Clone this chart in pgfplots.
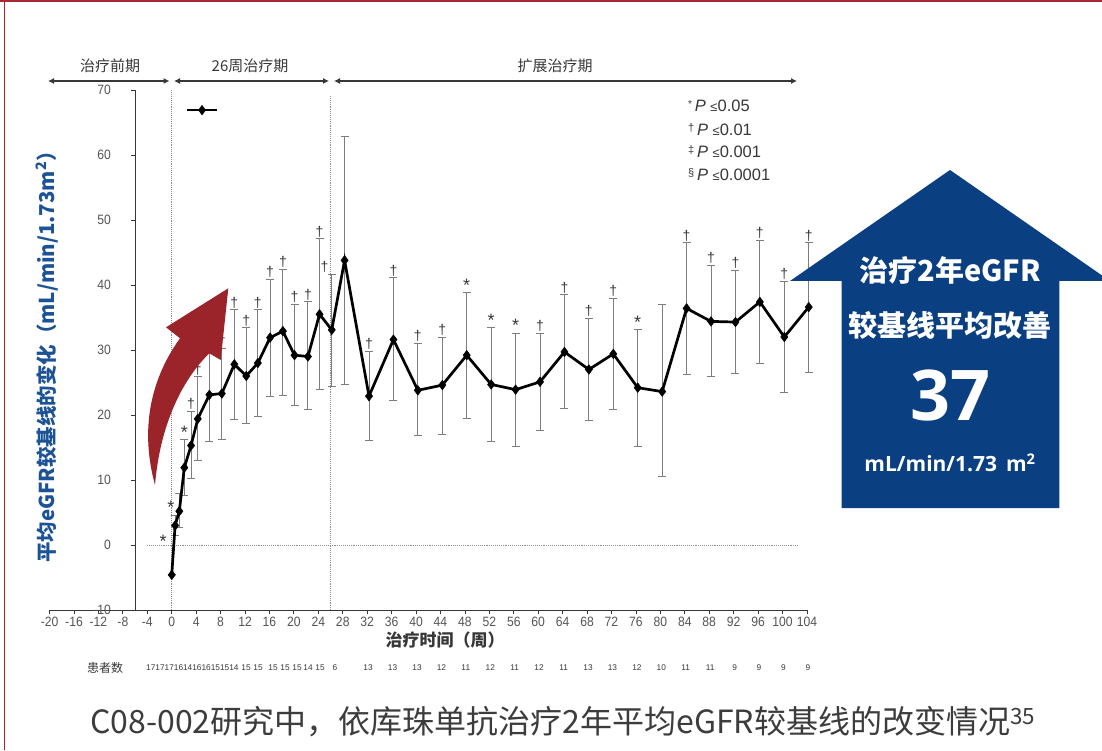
\documentclass[border=0pt]{standalone}
\usepackage{fontspec}
\usepackage{pgfplots}
\pgfplotsset{compat=1.18}
\usepackage{pgfplotstable}
\usetikzlibrary{arrows.meta}

\setmainfont{Liberation Sans}
\newfontfamily\cjk{Noto Sans CJK SC}
\newfontfamily\narrowfont[FakeStretch=0.9]{Liberation Sans}
\newfontfamily\opensans{Open Sans}

\definecolor{axcol}{RGB}{55,55,55}
\definecolor{tickcol}{RGB}{85,85,85}
\definecolor{barcol}{RGB}{125,125,125}
\definecolor{dotcol}{RGB}{140,140,140}
\definecolor{arrowred}{RGB}{155,36,43}
\definecolor{boxblue}{RGB}{10,63,130}
\definecolor{labblue}{RGB}{28,82,150}
\definecolor{framered}{RGB}{165,40,50}
\definecolor{titlegray}{RGB}{60,60,60}

% significance glyphs
\newcommand\sigA{\raisebox{-3pt}{\fontsize{18}{18}\selectfont *}}
\newcommand\sigB{†}

% mean change from baseline, upper / lower SD
\pgfplotstableread{
w      m     ep    em
0      -4.6  0     0
0.55   3.0   1.5   1.5
1.24   5.2   2.7   2.5
2.06   11.9  4.3   4.3
3.16   15.3  5.3   5.1
4.26   19.4  6.5   6.4
6.16   23.1  7.2   7.2
8.2    23.3  7.0   7.0
10.25  27.8  8.4   8.5
12.2   26.0  7.4   7.3
14.1   28.0  8.2   8.2
16.1   31.9  9.0   9.0
18.2   32.9  9.5   9.9
20.1   29.2  7.8   7.8
22.3   29.0  8.4   8.2
24.2   35.5  11.6  11.6
26.2   33.1  8.6   8.7
28.3   43.8  19.1  19.1
32.3   22.9  6.9   6.8
36.3   31.6  9.5   9.3
40.3   23.8  7.2   7.0
44.3   24.6  7.4   7.6
48.3   29.2  9.6   9.8
52.3   24.7  8.7   8.8
56.3   23.9  8.7   8.7
60.3   25.1  7.5   7.5
64.3   29.7  8.8   8.7
68.3   27.0  7.9   7.8
72.3   29.4  8.6   8.6
76.3   24.2  8.9   9.0
80.3   23.6  13.4  13.1
84.3   36.4  10.1  10.1
88.3   34.4  8.6   8.5
92.3   34.3  8.0   7.9
96.3   37.4  9.5   9.5
100.3  32.0  8.6   8.6
104.3  36.6  9.9   10.0
}\egfr

% significance symbols, placed on top of the SD bars
\pgfplotstableread{
w      t     s
-1.4   -0.6  \sigA
-0.15  4.6   \sigA
2.06   16.2  \sigA
3.16   20.6  \sigB
4.26   25.9  \sigB
6.16   30.3  \sigB
8.2    30.3  \sigB
10.25  36.2  \sigB
12.2   33.4  \sigB
14.1   36.2  \sigB
16.1   40.9  \sigB
18.2   42.4  \sigB
20.1   37.0  \sigB
22.3   37.4  \sigB
24.2   47.1  \sigB
25.0   41.7  \sigB
32.3   29.8  \sigB
36.3   41.1  \sigB
40.3   31.0  \sigB
44.3   32.0  \sigB
48.3   38.8  \sigA
52.3   33.4  \sigA
56.3   32.6  \sigA
60.3   32.6  \sigB
64.3   38.5  \sigB
68.3   34.9  \sigB
72.3   38.0  \sigB
76.3   33.1  \sigA
84.3   46.5  \sigB
88.3   43.0  \sigB
92.3   42.3  \sigB
96.3   46.9  \sigB
100.3  40.6  \sigB
104.3  46.5  \sigB
}\sig

\begin{document}
\begin{tikzpicture}[x=1pt,y=1pt]
\useasboundingbox (0,0) rectangle (1102,750);
\begin{scope}
\clip (0,0) rectangle (1102,750);

% frame
\fill[framered] (0,747.5) rectangle (1102,750);
\fill[framered] (3.5,0) rectangle (5,750);

\begin{axis}[
  at={(49.6pt,140pt)}, anchor=south west,
  scale only axis, width=757.3pt, height=520pt,
  xmin=-20, xmax=104, ymin=-10, ymax=70,
  axis x line=bottom, axis y line=none,
  x axis line style={-, axcol, line width=1pt},
  xtick={-20,-16,...,104},
  xticklabels={-20,-16,-12,-8,-4,0,4,8,12,16,20,24,28,32,36,40,44,48,52,56,60,64,68,72,76,80,84,88,92,96,100,104},
  xticklabel style={font=\narrowfont\fontsize{13.5}{13.5}\selectfont, text=tickcol},
  tick align=outside, major tick length=3.5pt,
  xtick style={axcol, line width=0.8pt},
  clip=false,
]
% reference lines
\draw[dotcol, densely dotted, line width=0.9pt] (axis cs:0,-10) -- (axis cs:0,70);
\draw[dotcol, densely dotted, line width=0.9pt] (axis cs:26,-10) -- (axis cs:26,69);
\draw[dotcol, densely dotted, line width=0.9pt] (axis cs:-4,0) -- (axis cs:102.5,0);

% y axis at week -6
\draw[axcol, line width=1pt] (axis cs:-6,-10) -- (axis cs:-6,70);
\pgfplotsinvokeforeach{-10,0,10,20,30,40,50,60,70}{
  \draw[axcol, line width=0.8pt] (axis cs:-6,#1) -- ([xshift=-4pt]axis cs:-6,#1);
  \node[anchor=east, font=\narrowfont\fontsize{13.5}{13.5}\selectfont, text=tickcol, inner sep=0pt]
    at ([xshift=-24pt]axis cs:-6,#1) {#1};
}

% SD bars
\addplot[draw=none, mark=none, forget plot,
  error bars/.cd, y dir=both, y explicit,
  error bar style={barcol, line width=0.9pt},
  error mark options={rotate=90, mark size=4pt, barcol, line width=0.9pt}]
  table[x=w, y=m, y error plus=ep, y error minus=em] {\egfr};

% mean change
\addplot[black, line width=2.7pt, mark=diamond*, mark size=4.8pt,
  mark options={solid, line width=0.5pt}]
  table[x=w, y=m] {\egfr};

% significance symbols
\addplot[draw=none, mark=none, nodes near coords, point meta=explicit symbolic,
  nodes near coords style={anchor=south, inner sep=1.5pt,
    font=\fontsize{14}{14}\selectfont, text=axcol}]
  table[x=w, y=t, meta=s] {\sig};

% line key
\addplot[black, line width=2.7pt] coordinates {(2.5,66.9) (7.4,66.9)};
\addplot[black, only marks, mark=diamond*, mark size=4.8pt] coordinates {(4.96,66.9)};
\end{axis}

% phase header
\begin{scope}[axcol, line width=1.1pt]
\draw[{Latex[length=6pt,width=6pt]}-{Latex[length=6pt,width=6pt]}] (48,669) -- (169.5,669);
\draw[{Latex[length=6pt,width=6pt]}-{Latex[length=6pt,width=6pt]}] (174,669) -- (329,669);
\draw[{Latex[length=6pt,width=6pt]}-{Latex[length=6pt,width=6pt]}] (334,669) -- (797,669);
\end{scope}
\node[font=\cjk\fontsize{15}{15}\selectfont, text=axcol] at (110,684) {治疗前期};
\node[font=\cjk\fontsize{15}{15}\selectfont, text=axcol] at (250,684) {26周治疗期};
\node[font=\cjk\fontsize{15}{15}\selectfont, text=axcol] at (555,684) {扩展治疗期};

% significance key
\begin{scope}[every node/.style={anchor=west, font=\fontsize{16.5}{16.5}\selectfont, text=axcol, inner sep=0pt}]
\node at (688,644) {\raisebox{4pt}{\fontsize{10}{10}\selectfont *}\,\textit{P} {\fontsize{13}{13}\selectfont ≤}0.05};
\node at (688,620) {\raisebox{4pt}{\fontsize{11}{11}\selectfont †}\,\textit{P} {\fontsize{13}{13}\selectfont ≤}0.01};
\node at (688,598) {\raisebox{4pt}{\fontsize{11}{11}\selectfont ‡}\,\textit{P} {\fontsize{13}{13}\selectfont ≤}0.001};
\node at (688,575) {\raisebox{4pt}{\fontsize{11}{11}\selectfont §}\,\textit{P} {\fontsize{13}{13}\selectfont ≤}0.0001};
\end{scope}

% axis titles
\node[rotate=90, font=\cjk\bfseries\fontsize{20.5}{22}\selectfont, text=labblue] at (47,398)
  {平均eGFR较基线的变化（mL/min/1.73m\textsuperscript{2}）};
\node[font=\cjk\bfseries\fontsize{17}{20}\selectfont, text=axcol] at (445,110) {治疗时间（周）};

% patients at each visit
\node[font=\cjk\fontsize{12}{12}\selectfont, text=axcol] at (105,82) {患者数};
\begin{scope}[every node/.style={font=\fontsize{8.3}{8.3}\selectfont, text=axcol, inner sep=0pt}]
\node[anchor=west] at (146,82) {17171716141616151514};
\foreach \px/\n in {246/15,258/15,273/15,285/15,297/15,308/14,320/15,335/6,
  368.1/13,392.6/13,417.0/13,441.4/12,465.8/11,490.3/12,514.7/11,539.1/12,563.6/11,
  588.0/13,612.4/13,636.9/12,661.3/10,685.7/11,710.1/11,734.6/9,759.0/9,783.4/9,807.8/9}
  {\node at (\px,82) {\n};}
\end{scope}

% upward trend arrow
\fill[arrowred] (180,411.7) -- (166,422.7) -- (228.3,461.7) -- (220.7,390) -- (209.3,396.7)
  .. controls (182,370) and (160,325) .. (155,265)
  .. controls (140,320) and (150,370) .. (180,411.7) -- cycle;

% summary box
\fill[boxblue] (950,580) -- (1110,469) -- (1059.3,469) -- (1059.3,242) -- (841.7,242)
  -- (841.7,469) -- (790,469) -- cycle;
\node[font=\cjk\bfseries\fontsize{29}{29}\selectfont, text=white] at (950,480) {治疗2年eGFR};
\node[font=\cjk\bfseries\fontsize{29}{29}\selectfont, text=white] at (950,425) {较基线平均改善};
\node[font=\opensans\bfseries\fontsize{70}{70}\selectfont, text=white] at (950,355) {37};
\node[font=\opensans\bfseries\fontsize{21}{21}\selectfont, text=white] at (950,287) {mL/min/1.73\, m\textsuperscript{2}};

% caption
\node[font=\cjk\fontsize{32}{36}\selectfont, text=titlegray] at (563,28)
  {C08-002研究中，依库珠单抗治疗2年平均eGFR较基线的改变情况\textsuperscript{35}};
\end{scope}
\end{tikzpicture}
\end{document}
